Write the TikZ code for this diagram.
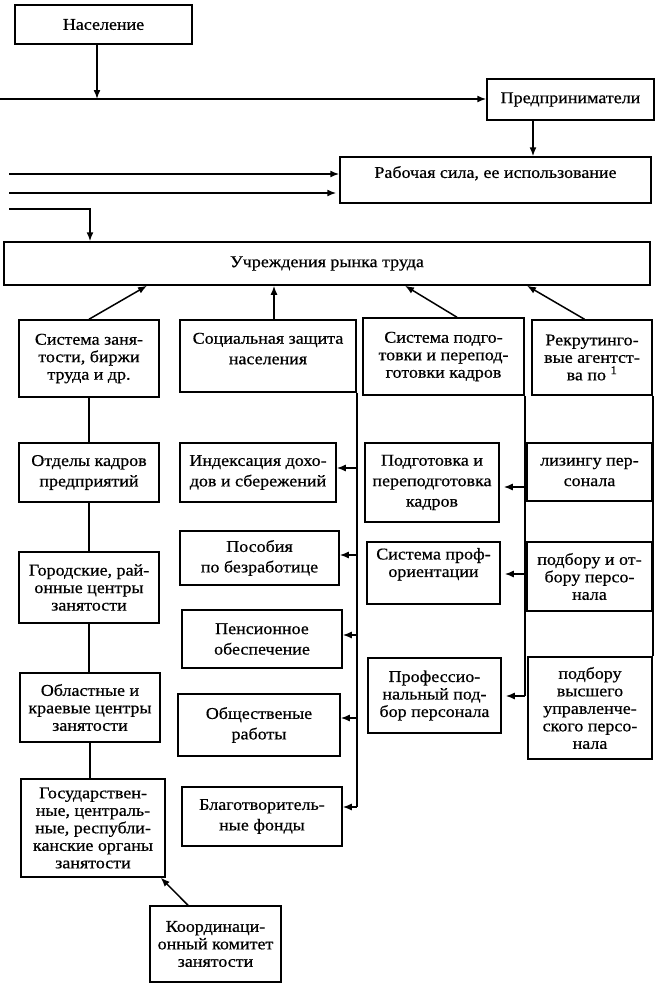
\documentclass[tikz,border=0pt]{standalone}
\usepackage{fontspec}
\setmainfont{Liberation Serif}[FakeStretch=1.09,FakeBold=0.6]
\usetikzlibrary{arrows.meta,positioning}

\begin{document}
\begin{tikzpicture}[x=1pt,y=-1pt,
  box/.style={draw,line width=1.5pt,align=center,inner sep=2pt,font=\fontsize{16.5}{17.5}\selectfont},
  wide/.style={font=\fontsize{16.5}{20.5}\selectfont},
  ln/.style={line width=1.5pt},
  arr/.style={line width=1.5pt,-{Latex[length=9pt,width=7pt]}}]

\useasboundingbox (0,0) rectangle (658,991);

% Top boxes
\node[box,minimum width=177pt,minimum height=39pt] (nas) at (103.5,24.5) {Население};
\node[box,minimum width=167pt,minimum height=41pt] (pred) at (570.5,99.5) {Предприниматели};
\node[box,minimum width=311pt,minimum height=46pt,text depth=16pt] (rab) at (495.5,180) {Рабочая сила, ее использование};
\node[box,minimum width=646pt,minimum height=43pt] (uch) at (327,263.5) {Учреждения рынка труда};

% Row 1
\node[box,minimum width=140pt,minimum height=77pt] (sz) at (89,358.5) {Система заня-\\тости, биржи\\труда и др.};
\node[box,wide,minimum width=176pt,minimum height=72pt,text depth=15pt] (soc) at (268,356) {Социальная защита\\населения};
\node[box,minimum width=161pt,minimum height=77pt] (spk) at (443.5,356.5) {Система подго-\\товки и перепод-\\готовки кадров};
\node[box,minimum width=120pt,minimum height=75pt] (rek) at (592,357.5) {Рекрутинго-\\вые агентст-\\ва по \textsuperscript{1}};

% Left column
\node[box,wide,minimum width=140pt,minimum height=59pt] (otd) at (89,472.5) {Отделы кадров\\предприятий};
\node[box,minimum width=140pt,minimum height=71pt] (gor) at (89,587.5) {Городские, рай-\\онные центры\\занятости};
\node[box,minimum width=140pt,minimum height=69pt] (obl) at (90,707.5) {Областные и\\краевые центры\\занятости};
\node[box,minimum width=144pt,minimum height=98pt] (gos) at (93,828) {Государствен-\\ные, централь-\\ные, республи-\\канские органы\\занятости};
\node[box,minimum width=131pt,minimum height=76pt] (koord) at (215.5,944) {Координаци-\\онный комитет\\занятости};

% Social column
\node[box,wide,minimum width=156pt,minimum height=59pt] (ind) at (258,472.5) {Индексация дохо-\\дов и сбережений};
\node[box,wide,minimum width=159pt,minimum height=54pt] (pos) at (259.5,558) {Пособия\\по безработице};
\node[box,wide,minimum width=160pt,minimum height=58pt] (pen) at (262,639) {Пенсионное\\обеспечение};
\node[box,wide,minimum width=162pt,minimum height=62pt] (obsh) at (259,725) {Общественые\\работы};
\node[box,wide,minimum width=160pt,minimum height=59pt] (blag) at (262,816.5) {Благотворитель-\\ные фонды};

% Training column
\node[box,wide,minimum width=134pt,minimum height=79pt] (pod) at (432,482.5) {Подготовка и\\переподготовка\\кадров};
\node[box,minimum width=133pt,minimum height=62pt,text depth=21pt] (prof) at (433.5,573) {Система проф-\\ориентации};
\node[box,minimum width=133pt,minimum height=75pt] (profp) at (434.5,695.5) {Профессио-\\нальный под-\\бор персонала};

% Recruiting column
\node[box,wide,minimum width=125pt,minimum height=58pt] (liz) at (589.5,472) {лизингу пер-\\сонала};
\node[box,minimum width=125pt,minimum height=69pt] (podo) at (589.5,576.5) {подбору и от-\\бору персо-\\нала};
\node[box,minimum width=124pt,minimum height=102pt] (podv) at (590,708) {подбору\\высшего\\управленче-\\ского персо-\\нала};

% Inputs
\coordinate (h) at (0,99);
\coordinate (a1) at (97,99);
\coordinate (a2) at (533,0);
\coordinate (in1) at (9,174);
\coordinate (in2) at (9,193);
\coordinate (in3) at (9,209);
\coordinate (a3) at (90,209);
\draw[arr] (h) -- (h -| pred.west);
\draw[arr] (a1 |- nas.south) -- (a1);
\draw[arr] (a2 |- pred.south) -- (a2 |- rab.north);
\draw[arr] (in1) -- (in1 -| rab.west);
\draw[arr,shorten >=3pt] (in2) -- (in2 -| rab.west);
\draw[arr] (in3) -- (a3) -- (a3 |- uch.north);

% Arrows up
\draw[arr] (sz.north) -- ([xshift=-180pt]uch.south);
\draw[arr] ([xshift=6pt]soc.north) -- ([xshift=-53pt]uch.south);
\draw[arr] ([xshift=13.5pt]spk.north) -- ([xshift=78pt]uch.south);
\draw[arr] ([xshift=-7.5pt]rek.north) -- ([xshift=200pt]uch.south);

% Left chain
\draw[ln] (sz.south) -- (sz.south |- otd.north);
\draw[ln] (otd.south) -- (otd.south |- gor.north);
\draw[ln] (gor.south) -- (gor.south |- obl.north);
\draw[ln] (obl.south) -- (obl.south |- gos.north);
\draw[arr] ([xshift=-27.5pt]koord.north) -- ([xshift=-5pt]gos.south east);

% Social branches
\coordinate (sb) at (blag.east);
\draw[ln] (soc.south east) -- ([yshift=9.5pt]sb -| soc.south east);
\foreach \n/\s in {ind/4.5,pos/3,pen/4,obsh/7,blag/9.5}{
  \coordinate (t) at ([yshift=\s pt]\n.east);
  \draw[arr] (t -| soc.south east) -- (t);
}

% Training branches
\coordinate (pb) at ([yshift=-0.5pt]profp.east);
\draw[ln] (spk.south east) -- (pb -| spk.south east);
\foreach \n/\s in {pod/-4.5,prof/-1,profp/-0.5}{
  \coordinate (t) at ([yshift=\s pt]\n.east);
  \draw[arr,shorten >=4pt] (t -| spk.south east) -- (t);
}

% Recruiting chain
\draw[ln] (rek.south east) -- (podv.north east);

\end{tikzpicture}
\end{document}
